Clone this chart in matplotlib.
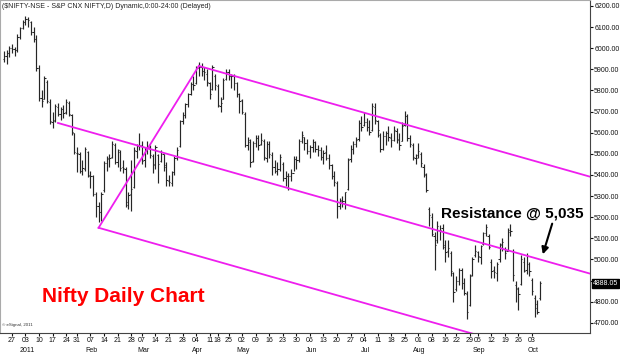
import matplotlib
matplotlib.use("Agg")
import matplotlib.pyplot as plt
import matplotlib.transforms as mtransforms
import numpy as np
import pandas as pd

# NSE holidays inside the charted range (no bars on these days)
holidays = ["2011-01-26", "2011-03-02", "2011-04-12", "2011-04-14", "2011-04-22",
            "2011-08-15", "2011-08-31", "2011-09-01", "2011-10-06"]

opens = [5950, 5965, 5975, 6000, 5995, 5990, 6055, 6095, 6125, 6140,
         6125, 6075, 6045, 5905, 5765, 5760, 5840, 5745, 5650, 5660,
         5720, 5690, 5710, 5700, 5740, 5685, 5600, 5505, 5500, 5420,
         5430, 5510, 5400, 5395, 5310, 5255, 5225, 5330, 5455, 5475,
         5485, 5540, 5460, 5510, 5440, 5430, 5270, 5310, 5345, 5515,
         5535, 5540, 5470, 5520, 5525, 5490, 5450, 5495, 5465, 5500,
         5440, 5370, 5360, 5415, 5480, 5535, 5655, 5685, 5735, 5785,
         5830, 5835, 5905, 5910, 5890, 5880, 5835, 5805, 5870, 5820,
         5725, 5760, 5855, 5885, 5870, 5870, 5835, 5785, 5755, 5690,
         5540, 5555, 5465, 5550, 5575, 5545, 5560, 5480, 5545, 5495,
         5440, 5420, 5430, 5450, 5385, 5395, 5395, 5410, 5475, 5470,
         5560, 5580, 5550, 5515, 5530, 5555, 5525, 5520, 5485, 5510,
         5480, 5445, 5395, 5360, 5255, 5280, 5275, 5335, 5475, 5525,
         5545, 5570, 5645, 5635, 5650, 5625, 5615, 5720, 5655, 5590,
         5525, 5585, 5600, 5575, 5565, 5610, 5570, 5560, 5635, 5680,
         5575, 5540, 5480, 5495, 5500, 5440, 5400, 5240, 5200, 5110,
         5090, 5140, 5150, 5060, 5040, 5030, 4935, 4860, 4900, 4950,
         4890, 4835, 4785, 4925, 5020, 5035, 5010, 5075, 5125, 5110,
         4990, 4950, 4935, 5000, 5070, 5050, 5040, 5130, 5040, 4880,
         4860, 4885, 4990, 4950, 4980, 4905, 4820, 4790, 4820]
highs = [5985, 5990, 6010, 6020, 6005, 6065, 6100, 6135, 6150, 6148,
         6130, 6100, 6060, 5920, 5800, 5870, 5850, 5760, 5700, 5735,
         5740, 5720, 5730, 5760, 5750, 5690, 5600, 5530, 5510, 5470,
         5530, 5515, 5420, 5400, 5320, 5270, 5320, 5465, 5490, 5500,
         5560, 5550, 5525, 5520, 5470, 5440, 5320, 5470, 5530, 5545,
         5600, 5560, 5530, 5560, 5540, 5500, 5540, 5500, 5520, 5500,
         5460, 5400, 5420, 5490, 5530, 5660, 5700, 5740, 5790, 5840,
         5870, 5915, 5935, 5930, 5910, 5900, 5840, 5920, 5880, 5830,
         5770, 5860, 5900, 5900, 5880, 5880, 5840, 5790, 5760, 5700,
         5580, 5570, 5560, 5590, 5590, 5600, 5570, 5560, 5560, 5510,
         5470, 5460, 5500, 5460, 5420, 5410, 5430, 5490, 5490, 5570,
         5610, 5580, 5570, 5540, 5570, 5560, 5540, 5530, 5520, 5540,
         5500, 5450, 5420, 5370, 5290, 5300, 5320, 5480, 5540, 5560,
         5580, 5660, 5680, 5700, 5670, 5660, 5740, 5740, 5660, 5600,
         5610, 5610, 5630, 5600, 5630, 5620, 5600, 5650, 5705, 5690,
         5590, 5550, 5500, 5550, 5510, 5450, 5410, 5250, 5220, 5130,
         5180, 5165, 5170, 5090, 5090, 5040, 4940, 4920, 4960, 4960,
         4910, 4850, 4930, 5010, 5070, 5040, 5070, 5130, 5170, 5120,
         5000, 4970, 4990, 5080, 5100, 5060, 5150, 5170, 5050, 4900,
         4870, 5020, 5010, 5030, 4990, 4910, 4830, 4810, 4900]
lows = [5935, 5925, 5960, 5975, 5965, 5980, 6045, 6090, 6110, 6100,
        6060, 6030, 5890, 5750, 5720, 5760, 5740, 5640, 5620, 5650,
        5680, 5660, 5670, 5690, 5680, 5590, 5500, 5415, 5410, 5400,
        5420, 5390, 5340, 5300, 5200, 5175, 5180, 5320, 5420, 5440,
        5480, 5450, 5440, 5420, 5410, 5250, 5240, 5230, 5340, 5480,
        5520, 5450, 5440, 5500, 5480, 5410, 5430, 5360, 5460, 5420,
        5350, 5350, 5350, 5400, 5470, 5530, 5640, 5670, 5720, 5780,
        5800, 5830, 5870, 5870, 5850, 5820, 5760, 5800, 5800, 5720,
        5700, 5760, 5850, 5850, 5810, 5800, 5770, 5695, 5690, 5530,
        5520, 5440, 5460, 5530, 5520, 5540, 5470, 5460, 5480, 5400,
        5410, 5400, 5420, 5370, 5350, 5330, 5370, 5420, 5430, 5460,
        5550, 5520, 5500, 5480, 5510, 5510, 5490, 5470, 5450, 5470,
        5430, 5380, 5350, 5195, 5240, 5250, 5240, 5330, 5460, 5500,
        5530, 5560, 5610, 5630, 5610, 5590, 5610, 5640, 5580, 5510,
        5520, 5540, 5560, 5530, 5560, 5550, 5520, 5560, 5630, 5560,
        5530, 5470, 5450, 5480, 5440, 5390, 5320, 5160, 5110, 4950,
        5080, 5090, 5050, 4990, 5010, 4920, 4800, 4850, 4880, 4860,
        4830, 4720, 4780, 4920, 5010, 4990, 4980, 5070, 5110, 5050,
        4910, 4910, 4900, 4990, 5040, 5000, 5040, 5110, 4900, 4800,
        4760, 4880, 4940, 4930, 4920, 4830, 4730, 4740, 4810]
closes = [5965, 5975, 6000, 5995, 5990, 6055, 6095, 6125, 6140, 6135,
          6075, 6045, 5905, 5765, 5750, 5860, 5750, 5655, 5655, 5725,
          5690, 5710, 5695, 5745, 5690, 5605, 5510, 5505, 5420, 5435,
          5525, 5395, 5395, 5310, 5255, 5225, 5310, 5455, 5480, 5480,
          5545, 5460, 5520, 5435, 5435, 5260, 5305, 5335, 5520, 5535,
          5540, 5465, 5520, 5530, 5495, 5445, 5530, 5450, 5510, 5445,
          5375, 5365, 5415, 5480, 5520, 5655, 5685, 5735, 5785, 5830,
          5825, 5910, 5910, 5890, 5885, 5840, 5785, 5910, 5825, 5730,
          5740, 5850, 5885, 5870, 5870, 5835, 5785, 5750, 5700, 5540,
          5565, 5460, 5550, 5575, 5540, 5565, 5485, 5545, 5500, 5440,
          5420, 5430, 5485, 5385, 5395, 5395, 5410, 5475, 5470, 5560,
          5590, 5550, 5515, 5530, 5555, 5525, 5520, 5485, 5505, 5480,
          5445, 5395, 5365, 5255, 5275, 5275, 5320, 5470, 5525, 5545,
          5565, 5645, 5625, 5650, 5625, 5605, 5725, 5660, 5615, 5525,
          5585, 5600, 5580, 5565, 5615, 5565, 5540, 5630, 5680, 5575,
          5545, 5485, 5480, 5515, 5455, 5405, 5330, 5210, 5120, 5070,
          5160, 5140, 5070, 5035, 5055, 4945, 4845, 4900, 4950, 4890,
          4840, 4750, 4920, 5000, 5040, 5015, 5065, 5125, 5155, 5060,
          4945, 4940, 4980, 5075, 5085, 5030, 5140, 5135, 4925, 4865,
          4835, 5000, 4945, 5015, 4945, 4850, 4770, 4750, 4888.05]

y_ticks = list(range(4700, 6201, 100))

# hand-drawn channel: start point (date, price) and common slope per bar
channel_slope = -3.63
upper_start = ("2011-04-05", 5916)
middle_start = ("2011-01-19", 5646)
lower_start = ("2011-02-10", 5150)
rally_line = [("2011-02-10", 5150), ("2011-04-05", 5916)]

dates = pd.bdate_range("2010-12-22", "2011-10-07")
dates = dates[~dates.isin(pd.to_datetime(holidays))]
assert len(dates) == len(closes)
x = np.arange(len(dates))
pos = {d.strftime("%Y-%m-%d"): i for i, d in enumerate(dates)}

W, H = 620, 355
fig = plt.figure(figsize=(W / 100, H / 100), dpi=100)
ax = fig.add_axes([0, 22 / H, 590 / W, 333 / H])

bar_col = "#262626"
ax.vlines(x, lows, highs, color=bar_col, lw=0.85)
ax.hlines(opens, x - 0.45, x, color=bar_col, lw=0.75)
ax.hlines(closes, x, x + 0.45, color=bar_col, lw=0.75)

xmax = 216.4
ax.set_xlim(-1.4, xmax)
ax.set_ylim(4652, 6228)

mag = "#ee1eee"
for d, p in [upper_start, middle_start, lower_start]:
    i0 = pos[d]
    ax.plot([i0, xmax], [p, p + channel_slope * (xmax - i0)], color=mag, lw=1.3)
ax.plot([pos[d] for d, _ in rally_line], [p for _, p in rally_line], color=mag, lw=1.3)

narrow = ["Liberation Sans Narrow", "DejaVu Sans Condensed", "Liberation Sans"]
small = 5

# x axis: first trading day of every week, month name under first tick of a month
week = dates.to_period("W")
ticks = [i for i in range(1, len(dates)) if week[i] != week[i - 1]]
ax.set_xticks(ticks)
ax.set_xticklabels([dates[i].strftime("%d") for i in ticks])
ax.tick_params(axis="x", length=2, pad=1, labelsize=small, colors="#111111")
for lab in ax.get_xticklabels():
    lab.set_family(narrow)
trans = mtransforms.blended_transform_factory(ax.transData, ax.transAxes)
prev = dates[ticks[0]].month
for i in ticks[1:]:
    m = dates[i].month
    if m != prev:
        txt = str(dates[i].year) if m == 1 else dates[i].strftime("%b")
        ax.text(i + 0.5, -0.043, txt, transform=trans, ha="center", va="top",
                fontsize=small, family=narrow, color="#111111")
    prev = m

# right price scale; the label nearest the last price is hidden behind its box
ax.yaxis.tick_right()
ax.set_yticks(y_ticks)
ax.set_yticklabels(["" if abs(v - closes[-1]) < 50 else f"{v:.2f}" for v in y_ticks])
ax.tick_params(axis="y", length=2, pad=1, labelsize=small, colors="#111111")
for lab in ax.get_yticklabels():
    lab.set_family(narrow)

tr_y = mtransforms.blended_transform_factory(ax.transAxes, ax.transData)
ax.text(1.005, closes[-1], f"{closes[-1]:.2f}", transform=tr_y, ha="left", va="center",
        fontsize=small, family=narrow, color="white",
        bbox=dict(boxstyle="square,pad=0.15", fc="black", ec="black"))

for s in ["right", "bottom"]:
    ax.spines[s].set_color("#444444")
    ax.spines[s].set_linewidth(0.8)
for s in ["top", "left"]:
    ax.spines[s].set_color("#aaaaaa")
    ax.spines[s].set_linewidth(0.8)

fig.text(2 / W, 1 - 6 / H, "(\\$NIFTY-NSE - S&P CNX NIFTY,D) Dynamic,0:00-24:00 (Delayed)",
         fontsize=small, family=narrow, color="#222222", va="center", ha="left")
ax.text(0.004, 0.025, "© eSignal, 2011", transform=ax.transAxes, fontsize=3.2,
        family=narrow, color="#333333", va="center")

ax.text(42 / 590, (333 - 296) / 333, "Nifty Daily Chart", transform=ax.transAxes,
        fontsize=15, fontweight="bold", family="Liberation Sans", color="#ff0000",
        va="center", ha="left")
ax.text(441 / 590, (333 - 213) / 333, "Resistance @ 5,035", transform=ax.transAxes,
        fontsize=11, fontweight="bold", family="Liberation Sans", color="black",
        va="center", ha="left")
ax.annotate("", xy=(542 / 590, (333 - 257) / 333), xytext=(553 / 590, (333 - 221) / 333),
            xycoords="axes fraction",
            arrowprops=dict(arrowstyle="-|>", color="black", lw=1.5, mutation_scale=10))

fig.savefig("out.png", dpi=100)
